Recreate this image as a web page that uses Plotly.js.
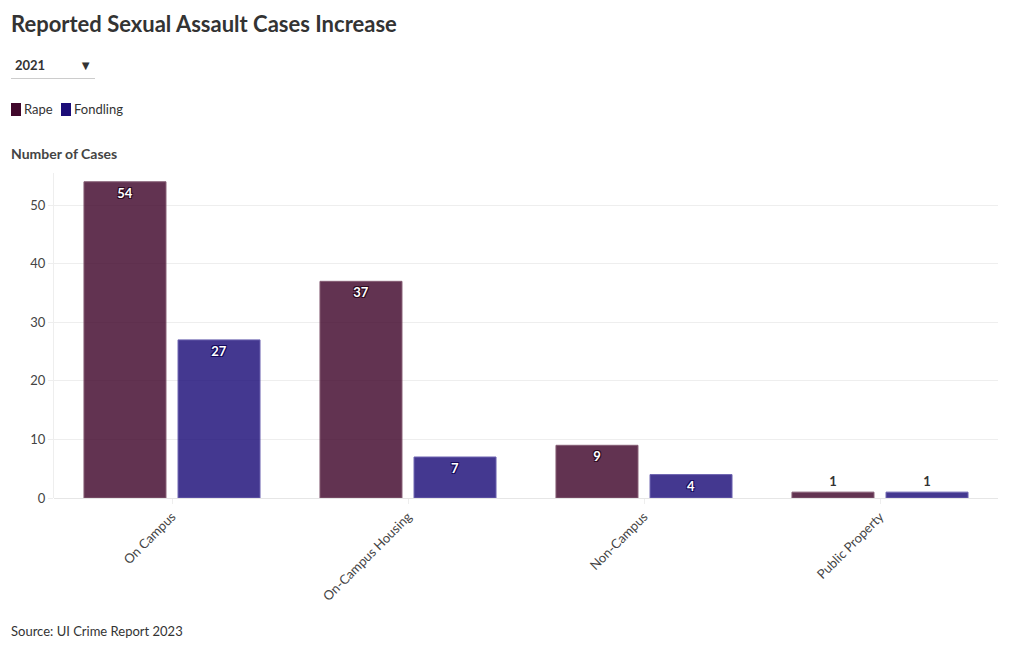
<!DOCTYPE html>
<html>
<head>
<meta charset="utf-8">
<script src="https://cdn.plot.ly/plotly-3.0.1.min.js"></script>
<style>
html,body{margin:0;padding:0;background:#fff;}
#chart{width:1020px;height:650px;}
</style>
</head>
<body>
<div id="chart"></div>
<script>
const categories = ["On Campus", "On-Campus Housing", "Non-Campus", "Public Property"];
const rapeValues = [54, 37, 9, 1];
const fondlingValues = [27, 7, 4, 1];
const years = ["2021"];
const seriesNames = ["Rape", "Fondling"];
const seriesColors = ["#40072b", "#1c0d78"];

const FONT = "Lato, 'Source Sans Pro', sans-serif";

// pixel -> paper helpers (plot area: x 54..998, y 173..498)
const PL = 54, PW = 944, PT = 173, PH = 325;
const px = v => (v - PL) / PW;
const py = v => (PT + PH - v) / PH;

function barTrace(name, values, color, lineColor, shadowColor) {
  const sh = shadowColor;
  return {
    type: "bar",
    name: name,
    x: categories,
    y: values,
    text: values.map(String),
    textposition: "auto",
    textangle: 0,
    constraintext: "none",
    insidetextanchor: "end",
    insidetextfont: {
      family: FONT, size: 13, color: "#ffffff", weight: 700,
      shadow: "1px 1px 0 " + sh + ", -1px -1px 0 " + sh + ", 1px -1px 0 " + sh + ", -1px 1px 0 " + sh
    },
    outsidetextfont: {family: FONT, size: 13, color: "#333333", weight: 700},
    cliponaxis: false,
    marker: {color: color, opacity: 0.82, line: {color: lineColor, width: 1}},
    hoverinfo: "x+y+name",
    showlegend: false
  };
}

const data = [
  barTrace(seriesNames[0], rapeValues, seriesColors[0], "#6b3a56", "#2b0a1e"),
  barTrace(seriesNames[1], fondlingValues, seriesColors[1], "#4e43a0", "#150a5c")
];

// custom compact legend (symbol + label)
const legendX = [11, 61];
const legendShapes = seriesNames.map((n, i) => ({
  type: "rect", xref: "paper", yref: "paper",
  x0: px(legendX[i]), x1: px(legendX[i] + 10),
  y0: py(116), y1: py(103),
  fillcolor: seriesColors[i], line: {width: 0}
}));
const legendAnnotations = seriesNames.map((n, i) => ({
  text: n, xref: "paper", yref: "paper",
  x: px(legendX[i] + 11), xanchor: "left",
  y: py(109.5), yanchor: "middle",
  showarrow: false,
  font: {family: FONT, size: 13, color: "#333333"}
}));

const layout = {
  width: 1020,
  height: 650,
  paper_bgcolor: "#ffffff",
  plot_bgcolor: "#ffffff",
  font: {family: FONT, color: "#333333", size: 13},
  margin: {l: PL, r: 1020 - PL - PW, t: PT, b: 650 - PT - PH, autoexpand: false},
  title: {
    text: "Reported Sexual Assault Cases Increase",
    font: {family: FONT, size: 22, color: "#333333", weight: 700},
    xref: "container", yref: "container",
    x: 11/1020, xanchor: "left",
    y: 1 - 24/650, yanchor: "middle"
  },
  barmode: "group",
  bargap: 0.203,
  bargroupgap: 0.128,
  showlegend: false,
  xaxis: {
    type: "category",
    tickangle: -45,
    tickfont: {family: FONT, size: 13, color: "#444444"},
    showgrid: false,
    showline: false,
    ticks: "outside",
    ticklen: 5,
    tickcolor: "#eeeeee",
    zeroline: false
  },
  yaxis: {
    range: [0, 55.5],
    dtick: 10,
    tickfont: {family: FONT, size: 13, color: "#444444"},
    showgrid: true,
    gridcolor: "#eeeeee",
    gridwidth: 1,
    showline: true,
    linecolor: "#eeeeee",
    ticks: "outside",
    ticklen: 5,
    tickcolor: "#eeeeee",
    zeroline: true,
    zerolinecolor: "#e6e6e6"
  },
  annotations: [
    {
      text: "<b>Number of Cases</b>",
      xref: "paper", yref: "paper",
      x: px(9), xanchor: "left",
      y: py(154), yanchor: "middle",
      showarrow: false,
      font: {family: FONT, size: 14, color: "#444444"}
    },
    {
      text: "Source: UI Crime Report 2023",
      xref: "paper", yref: "paper",
      x: px(9), xanchor: "left",
      y: py(631), yanchor: "middle",
      showarrow: false,
      font: {family: FONT, size: 13, color: "#333333"}
    }
  ].concat(legendAnnotations),
  shapes: [
    {
      type: "line", xref: "paper", yref: "paper",
      x0: px(11), x1: px(95),
      y0: py(78.5), y1: py(78.5),
      line: {color: "#cccccc", width: 1}
    }
  ].concat(legendShapes),
  updatemenus: [
    {
      type: "dropdown",
      buttons: years.map(y => ({label: y + "\u00a0\u00a0\u00a0\u00a0\u00a0\u00a0\u00a0", method: "skip", args: []})),
      active: 0,
      showactive: true,
      x: px(3), xanchor: "left",
      y: py(50), yanchor: "top",
      bgcolor: "rgba(255,255,255,0)",
      bordercolor: "rgba(255,255,255,0)",
      borderwidth: 0,
      pad: {t: 0, r: 0, b: 0, l: 0},
      font: {family: FONT, size: 13, color: "#333333", weight: 700}
    }
  ]
};

Plotly.newPlot("chart", data, layout, {displayModeBar: false, responsive: false});
</script>
</body>
</html>
